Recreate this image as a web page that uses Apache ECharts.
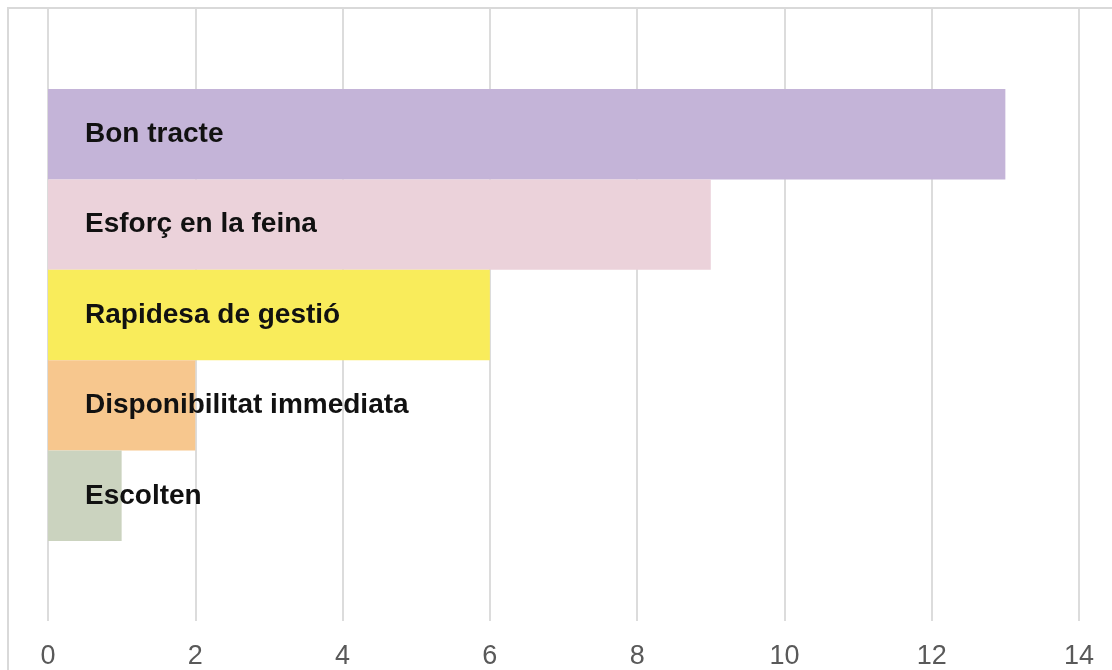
<!DOCTYPE html>
<html>
<head>
<meta charset="utf-8">
<script src="https://cdn.jsdelivr.net/npm/echarts@6/dist/echarts.min.js"></script>
<style>
  html, body { margin: 0; padding: 0; background: #fff; }
  #chart { width: 1112px; height: 670px; }
</style>
</head>
<body>
<div id="chart"></div>
<script>
// Categories, top to bottom, with their counts
const categories = ['Bon tracte', 'Esforç en la feina', 'Rapidesa de gestió', 'Disponibilitat immediata', 'Escolten'];
const values = [13, 9, 6, 2, 1];
const barColors = ['#c4b4d8', '#ebd2da', '#f9ec5b', '#f7c78e', '#cbd3bf'];
const axisMin = 0;
const axisMax = 14;
const axisStep = 2;

const chart = echarts.init(document.getElementById('chart'), null, { renderer: 'canvas' });

const valueAxisBase = {
  type: 'value',
  min: axisMin,
  max: axisMax,
  interval: axisStep
};

chart.setOption({
  animation: false,
  backgroundColor: '#ffffff',
  graphic: [{
    type: 'rect',
    silent: true,
    shape: { x: 8, y: 8, width: 1300, height: 900 },
    style: { fill: 'none', stroke: '#d9d9d9', lineWidth: 2 }
  }],
  grid: [
    // full plot area: gridlines and tick labels
    { left: 48, width: 1031, top: 9, height: 613 },
    // band holding the bars
    { left: 48, width: 1031, top: 89, height: 452 }
  ],
  xAxis: [
    Object.assign({}, valueAxisBase, {
      gridIndex: 0,
      axisLine: { show: false },
      axisTick: { show: false },
      splitLine: { show: true, lineStyle: { color: '#dcdcdc', width: 2 } },
      axisLabel: {
        margin: 22,
        color: '#595959',
        fontFamily: 'Liberation Sans, Arial, sans-serif',
        fontSize: 27
      }
    }),
    Object.assign({}, valueAxisBase, {
      gridIndex: 1,
      show: false,
      splitLine: { show: false }
    })
  ],
  yAxis: [
    { gridIndex: 0, type: 'value', show: false, min: 0, max: 1, splitLine: { show: false } },
    {
      gridIndex: 1,
      type: 'category',
      data: categories,
      inverse: true,
      show: false
    }
  ],
  series: [{
    type: 'bar',
    xAxisIndex: 1,
    yAxisIndex: 1,
    barWidth: '100%',
    data: values.map((v, i) => ({ value: v, itemStyle: { color: barColors[i] } })),
    label: {
      show: true,
      position: 'insideLeft',
      distance: 37,
      formatter: (p) => categories[p.dataIndex],
      color: '#111111',
      fontFamily: 'Liberation Sans, Arial, sans-serif',
      fontWeight: 'bold',
      fontSize: 28
    }
  }]
});
</script>
</body>
</html>
